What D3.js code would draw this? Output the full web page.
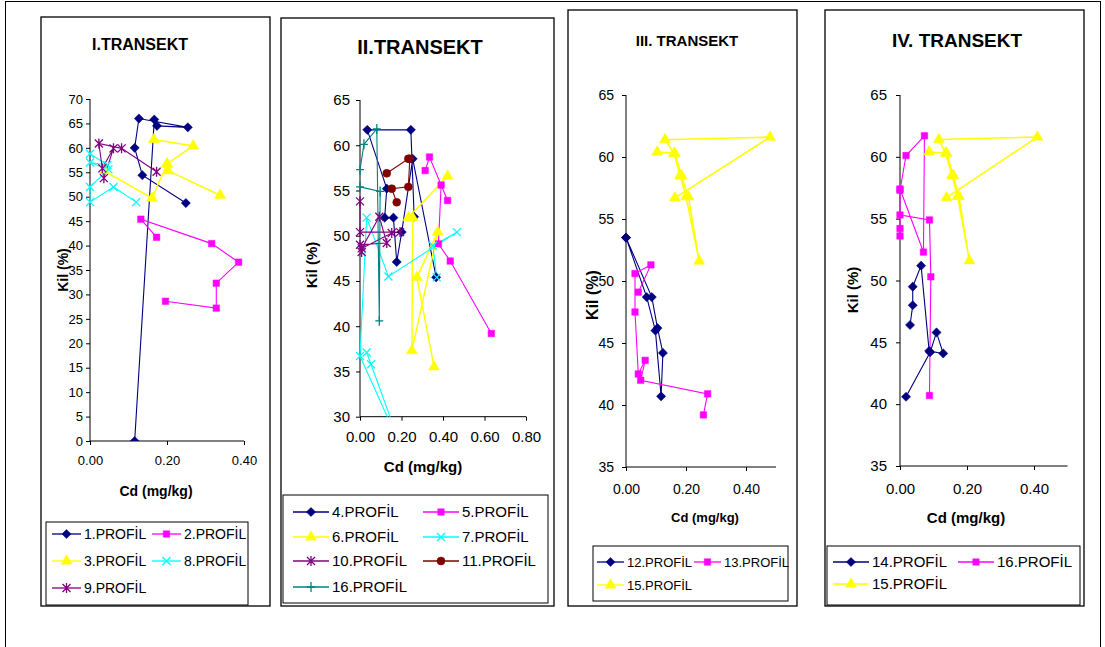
<!DOCTYPE html>
<html>
<head>
<meta charset="utf-8">
<script src="https://cdn.jsdelivr.net/npm/d3@7"></script>
<style>
  body { margin: 0; background: #fff; }
  svg { font-family: "Liberation Sans", Arial, sans-serif; }
</style>
</head>
<body>
<svg id="chart" width="1105" height="647"></svg>
<script>
// Kil (%) vs Cd (mg/kg): [cd, kil]
// null = gap in the line (empty cell)

// I.TRANSEKT
let prof1 = [[0.116, 0], [0.167, 65.8], [0.174, 64.5], [0.254, 64.2], [0.127, 66.0], [0.116, 60.0], [0.136, 54.4], [0.249, 48.7]];
let prof2 = [[0.173, 41.7], [0.132, 45.4], [0.316, 40.4], [0.386, 36.6], [0.328, 32.3], [0.328, 27.2], [0.196, 28.6]];
let prof3 = [[0.037, 55.3], [0.161, 49.7], [0.2, 56.7], [0.203, 55.3], [0.338, 50.3], null, [0.2, 56.7], [0.268, 60.4], [0.166, 61.7]];
let prof8 = [[0.0, 58.8], [0.045, 56.5], [0.0, 57.0], [0.048, 55.6], [0.0, 52.0], [0.0, 48.9], [0.061, 52.0], [0.12, 48.9]];
let prof9 = [[0.173, 55.1], [0.082, 59.9], [0.023, 60.9], [0.032, 55.8], [0.061, 59.9], [0.036, 53.8]];

// II.TRANSEKT
let prof4 = [[0.261, 52.1], [0.245, 61.7], [0.035, 61.7], [0.129, 55.2], [0.119, 52.0], [0.161, 52.0], [0.177, 47.1], [0.201, 50.4], [0.254, 58.5], [0.367, 45.4]];
let prof5 = [[0.314, 57.2], [0.335, 58.7], [0.422, 53.9], [0.391, 55.6], [0.378, 49.1], [0.435, 47.2], [0.633, 39.2]];
let prof6 = [[0.422, 56.6], [0.233, 52.0], [0.254, 52.0], [0.25, 37.3], [0.375, 50.4], [0.274, 45.4], [0.357, 35.5]];
let prof7 = [[0.37, 45.4], [0.351, 48.9], [0.467, 50.4], [0.137, 45.5], [0.032, 52.0], [0.0, 36.7], [0.2, 26.5], [0.053, 35.8], [0.032, 37.1]];
let prof10 = [[0.0, 53.8], [0.0, 50.4], [0.193, 50.4], [0.153, 50.3], [0.008, 48.6], [0.093, 52.1], [0.129, 49.2], [0.0, 49.0], [0.008, 48.2]];
let prof11 = [[0.129, 56.9], [0.233, 58.5], [0.24, 58.5], [0.233, 55.4], [0.153, 55.2], [0.177, 53.7]];
let prof16b = [[0.0, 55.4], [0.097, 54.9], [0.093, 40.6], [0.081, 61.8], [0.019, 60.1], [0.0, 57.3]];

// III. TRANSEKT
let prof12 = [[0.0, 53.5], [0.069, 48.7], [0.098, 46.0], [0.117, 40.7], [0.123, 44.2], [0.105, 46.2], [0.086, 48.7], [0.0, 53.5]];
let prof13 = [[0.041, 49.1], [0.083, 51.3], [0.03, 50.6], [0.03, 47.5], [0.041, 42.5], [0.064, 43.6], [0.049, 42.0], [0.272, 40.9], [0.258, 39.2]];
let prof15c = [[0.104, 60.4], [0.163, 60.3], [0.185, 58.5], [0.208, 56.8], [0.244, 51.6], [0.2, 56.8], [0.18, 58.5], [0.16, 60.3], [0.13, 61.4], [0.48, 61.6], [0.163, 56.7]];

// IV. TRANSEKT
let prof14 = [[0.03, 46.4], [0.038, 48.0], [0.038, 49.5], [0.063, 51.2], [0.087, 44.3], [0.129, 44.1], [0.109, 45.8], [0.09, 44.2], [0.018, 40.6]];
let prof16 = [[0.088, 40.7], [0.092, 50.3], [0.088, 54.9], [0.0, 55.3], [0.0, 54.2], [0.0, 53.6], [0.0, 57.4], [0.07, 52.3], [0.073, 61.7], [0.018, 60.1], [0.0, 57.3]];
let prof15 = [[0.087, 60.4], [0.139, 60.3], [0.159, 58.5], [0.176, 56.8], [0.207, 51.6], [0.172, 56.8], [0.155, 58.5], [0.136, 60.3], [0.116, 61.4], [0.41, 61.6], [0.139, 56.7]];

// tick values
let xTicksI = [0, 0.2, 0.4];
let yTicksI = d3.range(0, 71, 5);
let xTicksII = [0, 0.2, 0.4, 0.6, 0.8];
let yTicksII = [30, 35, 40, 45, 50, 55, 60, 65];
let xTicksIII = [0, 0.2, 0.4];
let yTicksIII = [35, 40, 45, 50, 55, 60, 65];

let svg = d3.select("#chart");

// marker paths for the Excel-like point styles
let markerPath = {
    diamond: "M0,-4.6L4.6,0L0,4.6L-4.6,0Z",
    square: d3.symbol(d3.symbolSquare, 42)(),
    triangle: d3.symbol(d3.symbolTriangle, 52)(),
    circle: d3.symbol(d3.symbolCircle, 50)(),
    x: "M-4,-4L4,4M-4,4L4,-4",
    star: "M-4,-4L4,4M-4,4L4,-4M0,-5L0,5",
    plus: "M-4,0L4,0M0,-5L0,5"
};
let filled = {diamond: true, square: true, triangle: true, circle: true};

function drawMarker(g, type, color, x, y) {
    let p = g.append("path")
        .attr("d", markerPath[type])
        .attr("transform", "translate(" + x + "," + y + ")");
    if (filled[type]) {
        p.attr("fill", color).attr("stroke", color).attr("stroke-width", 0.5);
    } else {
        p.attr("fill", "none").attr("stroke", color).attr("stroke-width", 1.3);
    }
}

function drawPanel(opt) {
    let f = opt.frame;
    svg.append("rect")
        .attr("x", f[0]).attr("y", f[1])
        .attr("width", f[2] - f[0]).attr("height", f[3] - f[1])
        .attr("fill", "#fff").attr("stroke", "#000").attr("stroke-width", 1.3);

    svg.append("text")
        .attr("x", opt.titleX).attr("y", opt.titleY)
        .attr("text-anchor", "middle")
        .style("font-weight", "bold")
        .style("font-size", opt.titleSize + "px")
        .text(opt.title);

    let x = d3.scaleLinear().domain(opt.xDomain).range(opt.xRange);
    let y = d3.scaleLinear().domain(opt.yDomain).range(opt.yRange);

    let g = svg.append("g");
    let clipId = "clip" + opt.id;
    g.append("clipPath").attr("id", clipId)
        .append("rect")
        .attr("x", opt.xRange[0] - 6).attr("y", opt.yRange[1] - 6)
        .attr("width", opt.xRange[1] - opt.xRange[0] + 12)
        .attr("height", opt.yRange[0] - opt.yRange[1] + 6);

    // axes
    let yAxis = g.append("g")
        .attr("transform", "translate(" + opt.xRange[0] + ",0)")
        .call(d3.axisLeft(y).tickValues(opt.yTicks).tickSize(4).tickPadding(opt.yPad).tickFormat(d3.format("d")));
    let xAxis = g.append("g")
        .attr("transform", "translate(0," + opt.yRange[0] + ")")
        .call(d3.axisBottom(x).tickValues(opt.xTicks).tickSize(4).tickPadding(opt.xPad).tickFormat(d3.format(".2f")));
    [xAxis, yAxis].forEach(function(a) {
        a.select(".domain").attr("stroke", "#000").attr("stroke-width", 1);
        a.selectAll(".tick line").attr("stroke", "#000");
        a.selectAll("text").attr("fill", "#000").style("font-size", opt.tickSize + "px")
            .style("font-family", "Liberation Sans, Arial, sans-serif");
    });
    yAxis.select(".domain").attr("d", "M0," + opt.yRange[0] + "V" + opt.yRange[1]);
    xAxis.select(".domain").attr("d", "M" + opt.xRange[0] + ",0H" + opt.xRange[1]);

    // axis titles
    svg.append("text")
        .attr("transform", "translate(" + opt.yLabelX + "," + opt.yLabelY + ") rotate(-90)")
        .attr("text-anchor", "middle")
        .style("font-weight", "bold").style("font-size", opt.yLabelSize + "px")
        .text("Kil (%)");
    svg.append("text")
        .attr("x", opt.xLabelX).attr("y", opt.xLabelY)
        .attr("text-anchor", "middle")
        .style("font-weight", "bold").style("font-size", opt.labelSize + "px")
        .text("Cd (mg/kg)");

    // series
    let plot = g.append("g").attr("clip-path", "url(#" + clipId + ")");
    let line = d3.line()
        .defined(function(d) { return d != null; })
        .x(function(d) { return x(d[0]); })
        .y(function(d) { return y(d[1]); });
    opt.series.forEach(function(s) {
        plot.append("path")
            .datum(s.data)
            .attr("fill", "none")
            .attr("stroke", s.color)
            .attr("stroke-width", s.color == "#ffff00" ? 1.5 : 1.1)
            .attr("d", line);
    });
    opt.series.forEach(function(s) {
        s.data.forEach(function(d) {
            if (d == null) return;
            if (d[1] < opt.yDomain[0]) return;
            drawMarker(plot, s.marker, s.color, x(d[0]), y(d[1]));
        });
    });

    // legend
    let L = opt.legend;
    svg.append("rect")
        .attr("x", L.box[0]).attr("y", L.box[1])
        .attr("width", L.box[2] - L.box[0]).attr("height", L.box[3] - L.box[1])
        .attr("fill", "#fff").attr("stroke", "#000").attr("stroke-width", 1);
    opt.series.forEach(function(s, i) {
        let col = L.order[i][0], row = L.order[i][1];
        let lx = L.cols[col], ly = L.rows[row];
        svg.append("line")
            .attr("x1", lx).attr("x2", lx + L.lineLen)
            .attr("y1", ly).attr("y2", ly)
            .attr("stroke", s.color).attr("stroke-width", 1.3);
        let lg = svg.append("g");
        drawMarker(lg, s.marker, s.color, lx + L.lineLen / 2, ly);
        svg.append("text")
            .attr("x", lx + L.lineLen + 3).attr("y", ly + L.fontSize * 0.36)
            .style("font-size", L.fontSize + "px")
            .text(s.name);
    });
}

// outer border
svg.append("rect").attr("x", 5.5).attr("y", 1.5).attr("width", 1095).attr("height", 660)
    .attr("fill", "none").attr("stroke", "#000").attr("stroke-width", 1);

drawPanel({
    id: 1, frame: [41, 17, 270, 606],
    title: "I.TRANSEKT", titleX: 140, titleY: 50, titleSize: 16,
    xDomain: [0, 0.4], xRange: [90, 244], yDomain: [0, 70], yRange: [441, 99],
    xTicks: xTicksI, yTicks: yTicksI, tickSize: 13, xPad: 11, yPad: 3,
    yLabelX: 68, yLabelY: 270, yLabelSize: 14, xLabelX: 156, xLabelY: 496, labelSize: 14,
    series: [
        {name: "1.PROFİL", color: "#000080", marker: "diamond", data: prof1},
        {name: "2.PROFİL", color: "#ff00ff", marker: "square", data: prof2},
        {name: "3.PROFİL", color: "#ffff00", marker: "triangle", data: prof3},
        {name: "8.PROFİL", color: "#00ffff", marker: "x", data: prof8},
        {name: "9.PROFİL", color: "#800080", marker: "star", data: prof9}
    ],
    legend: {box: [46, 522, 248, 605], cols: [52, 152], rows: [534, 561, 588], lineLen: 29, fontSize: 14,
        order: [[0, 0], [1, 0], [0, 1], [1, 1], [0, 2]]}
});

drawPanel({
    id: 2, frame: [281, 18, 554, 606],
    title: "II.TRANSEKT", titleX: 420, titleY: 54, titleSize: 20,
    xDomain: [0, 0.8], xRange: [360, 526], yDomain: [30, 65], yRange: [416.7, 100],
    xTicks: xTicksII, yTicks: yTicksII, tickSize: 15, xPad: 11, yPad: 6,
    yLabelX: 317, yLabelY: 265, yLabelSize: 15, xLabelX: 423, xLabelY: 472, labelSize: 15,
    series: [
        {name: "4.PROFİL", color: "#000080", marker: "diamond", data: prof4},
        {name: "5.PROFİL", color: "#ff00ff", marker: "square", data: prof5},
        {name: "6.PROFİL", color: "#ffff00", marker: "triangle", data: prof6},
        {name: "7.PROFİL", color: "#00ffff", marker: "x", data: prof7},
        {name: "10.PROFİL", color: "#800080", marker: "star", data: prof10},
        {name: "11.PROFİL", color: "#800000", marker: "circle", data: prof11},
        {name: "16.PROFİL", color: "#008080", marker: "plus", data: prof16b}
    ],
    legend: {box: [283, 495, 548, 603], cols: [293, 423], rows: [512, 537, 561, 587], lineLen: 36, fontSize: 15,
        order: [[0, 0], [1, 0], [0, 1], [1, 1], [0, 2], [1, 2], [0, 3]]}
});

drawPanel({
    id: 3, frame: [568, 10, 797, 606],
    title: "III. TRANSEKT", titleX: 687, titleY: 46, titleSize: 15,
    xDomain: [0, 0.5], xRange: [626, 776], yDomain: [35, 65], yRange: [467, 95],
    xTicks: xTicksIII, yTicks: yTicksIII, tickSize: 14, xPad: 13, yPad: 8,
    yLabelX: 598, yLabelY: 295, yLabelSize: 16, xLabelX: 705, xLabelY: 522, labelSize: 13,
    series: [
        {name: "12.PROFİL", color: "#000080", marker: "diamond", data: prof12},
        {name: "13.PROFİL", color: "#ff00ff", marker: "square", data: prof13},
        {name: "15.PROFİL", color: "#ffff00", marker: "triangle", data: prof15c}
    ],
    legend: {box: [593, 546, 788, 601], cols: [597, 694], rows: [562, 585], lineLen: 27, fontSize: 13,
        order: [[0, 0], [1, 0], [0, 1]]}
});

drawPanel({
    id: 4, frame: [825, 10, 1084, 606],
    title: "IV. TRANSEKT", titleX: 957, titleY: 47, titleSize: 19,
    xDomain: [0, 0.5], xRange: [900, 1067.5], yDomain: [35, 65], yRange: [466, 95],
    xTicks: xTicksIII, yTicks: yTicksIII, tickSize: 15, xPad: 13, yPad: 9,
    yLabelX: 858, yLabelY: 290, yLabelSize: 15, xLabelX: 966, xLabelY: 523, labelSize: 15,
    series: [
        {name: "14.PROFİL", color: "#000080", marker: "diamond", data: prof14},
        {name: "16.PROFİL", color: "#ff00ff", marker: "square", data: prof16},
        {name: "15.PROFİL", color: "#ffff00", marker: "triangle", data: prof15}
    ],
    legend: {box: [827, 546, 1080, 605], cols: [833, 958], rows: [562, 584], lineLen: 36, fontSize: 15,
        order: [[0, 0], [1, 0], [0, 1]]}
});
</script>
</body>
</html>
